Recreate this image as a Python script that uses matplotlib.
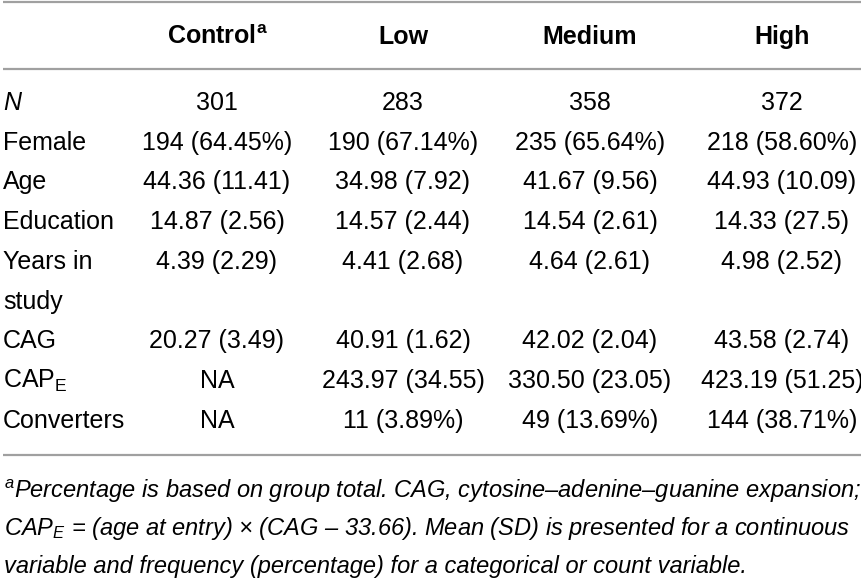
import matplotlib.pyplot as plt

plt.rcParams['mathtext.fontset'] = 'custom'
plt.rcParams['mathtext.rm'] = 'Liberation Sans'
plt.rcParams['mathtext.bf'] = 'Liberation Sans:bold'
plt.rcParams['mathtext.it'] = 'Liberation Sans:italic'

# table content
groups = ['Control$^{\\mathbf{a}}$', 'Low', 'Medium', 'High']
row_labels = ['N', 'Female', 'Age', 'Education', 'Years in\nstudy', 'CAG',
              'CAP$_{\\mathrm{E}}$', 'Converters']
n_total = ['301', '283', '358', '372']
female = ['194 (64.45%)', '190 (67.14%)', '235 (65.64%)', '218 (58.60%)']
age = ['44.36 (11.41)', '34.98 (7.92)', '41.67 (9.56)', '44.93 (10.09)']
education = ['14.87 (2.56)', '14.57 (2.44)', '14.54 (2.61)', '14.33 (27.5)']
years_in_study = ['4.39 (2.29)', '4.41 (2.68)', '4.64 (2.61)', '4.98 (2.52)']
cag = ['20.27 (3.49)', '40.91 (1.62)', '42.02 (2.04)', '43.58 (2.74)']
cap_e = ['NA', '243.97 (34.55)', '330.50 (23.05)', '423.19 (51.25)']
converters = ['NA', '11 (3.89%)', '49 (13.69%)', '144 (38.71%)']
rows = [n_total, female, age, education, years_in_study, cag, cap_e, converters]

footnote = [
    '$^{a}$Percentage is based on group total. CAG, cytosine\u2013adenine\u2013guanine expansion;',
    'CAP$_{E}$ = (age at entry) \u00d7 (CAG \u2013 33.66). Mean (SD) is presented for a continuous',
    'variable and frequency (percentage) for a categorical or count variable.',
]

col_x = [217, 403, 590, 782]
row_y0 = 101
row_h = 39.7
fs = 18
line_color = '#a0a0a0'

fig = plt.figure(figsize=(8.62, 5.79), dpi=100)
ax = fig.add_axes([0, 0, 1, 1])
ax.set_xlim(0, 862)
ax.set_ylim(579, 0)
ax.axis('off')

# horizontal rules
for y in [2, 69, 455]:
    ax.plot([3, 862], [y, y], color=line_color, lw=1.6, solid_capstyle='butt')

for x, g in zip(col_x, groups):
    ax.text(x, 35 + 9, g, ha='center', va='baseline', fontsize=fs,
            fontweight='bold', family='Liberation Sans')

slot = 0
for label, vals in zip(row_labels, rows):
    y = row_y0 + slot * row_h
    for i, part in enumerate(label.split('\n')):
        ax.text(3, y + i * row_h + 9, part, ha='left', va='baseline', fontsize=fs,
                family='Liberation Sans',
                fontstyle='italic' if label == 'N' else 'normal')
    for x, v in zip(col_x, vals):
        ax.text(x, y + 9, v, ha='center', va='baseline', fontsize=fs,
                family='Liberation Sans')
    slot += len(label.split('\n'))

for i, line in enumerate(footnote):
    ax.text(4, 498 + i * 37.5, line, ha='left', va='baseline', fontsize=17,
            family='Liberation Sans', fontstyle='italic')

fig.savefig('out.png', dpi=100)
